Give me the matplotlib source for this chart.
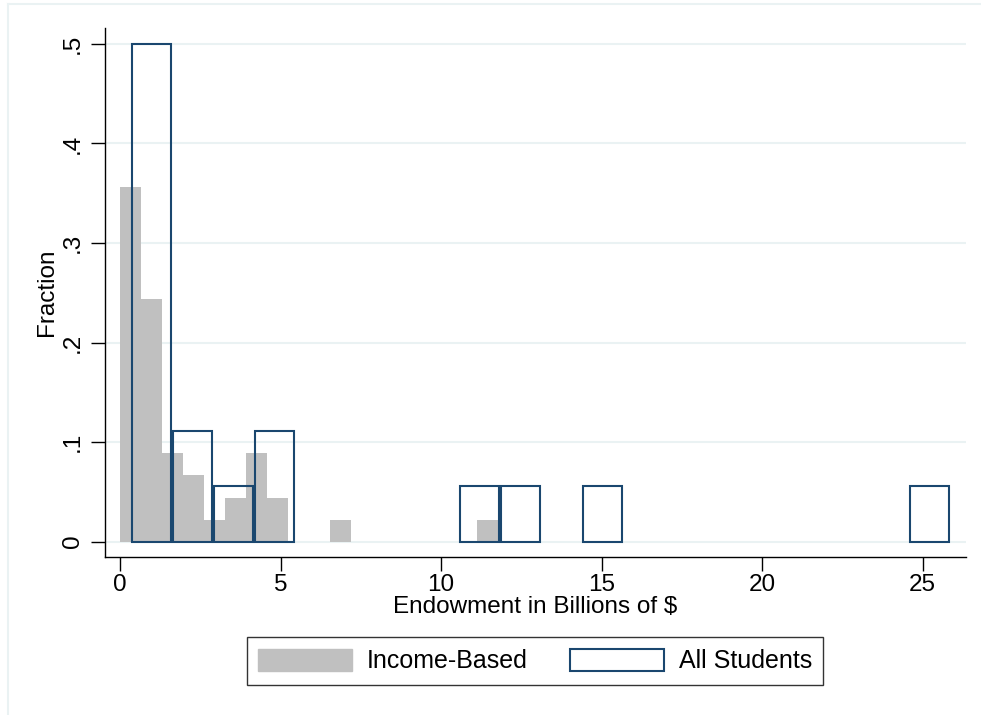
"""Endowment histogram: income-based vs all students (Stata-style look)."""

import numpy as np
import matplotlib

matplotlib.use("Agg")
import matplotlib.pyplot as plt
from matplotlib.patches import Patch

# histogram bins
income_start = 0.01
income_width = 0.6535
income_frac = [0.356, 0.244, 0.089, 0.067, 0.022, 0.044, 0.089, 0.044, 0.0,
               0.0, 0.022, 0.0, 0.0, 0.0, 0.0, 0.0, 0.0, 0.022]

all_start = 0.34
all_width = 1.276
all_frac = [0.5, 0.111, 0.0556, 0.111, 0.0, 0.0, 0.0, 0.0, 0.0556, 0.0556,
            0.0, 0.0556, 0.0, 0.0, 0.0, 0.0, 0.0, 0.0, 0.0, 0.0556]

x_ticks = [0, 5, 10, 15, 20, 25]
y_ticks = [0, 0.1, 0.2, 0.3, 0.4, 0.5]
y_tick_labels = ["0", ".1", ".2", ".3", ".4", ".5"]

GRAY = "#c0c0c0"
NAVY = "#1a476f"
GRID = "#eaf2f3"

plt.rcParams.update({"font.family": "Liberation Sans", "font.size": 17.5})

W, H = 981, 715
fig = plt.figure(figsize=(W / 100, H / 100), dpi=100)
ax = fig.add_axes([105 / W, 1 - 557 / H, (966 - 105) / W, (557 - 28) / H])

# light outer graph-region border (top + left)
fig.add_artist(plt.Line2D([8 / W, 1], [1 - 4 / H, 1 - 4 / H], color=GRID, lw=1.5))
fig.add_artist(plt.Line2D([8 / W, 8 / W], [0, 1 - 4 / H], color=GRID, lw=1.5))

inc_left = income_start + income_width * np.arange(len(income_frac))
all_left = all_start + all_width * np.arange(len(all_frac))

ax.bar(inc_left, income_frac, width=income_width, align="edge", color=GRAY,
       linewidth=0, zorder=2)
gap = 0.06
keep = [i for i, v in enumerate(all_frac) if v > 0]
ax.bar(all_left[keep] + gap / 2, [all_frac[i] for i in keep], width=all_width - gap,
       align="edge", facecolor="none", edgecolor=NAVY, linewidth=1.5, zorder=3)

ax.set_xlim(-0.467, 26.35)
ax.set_ylim(-0.0154, 0.516)
for y in y_ticks:
    ax.axhline(y, color=GRID, lw=1.5, zorder=1)

ax.set_xticks(x_ticks)
ax.set_yticks(y_ticks, y_tick_labels)
ax.tick_params(axis="y", length=10, width=1, pad=5, labelrotation=90)
ax.tick_params(axis="x", length=10, width=1, pad=2.5)
for lab in ax.get_yticklabels():
    lab.set_va("center")

ax.spines[["top", "right"]].set_visible(False)
ax.spines[["left", "bottom"]].set_linewidth(1)

ax.set_xlabel("Endowment in Billions of $", labelpad=0)
ax.set_ylabel("Fraction", labelpad=3)

handles = [Patch(facecolor=GRAY, edgecolor=GRAY, label="Income-Based"),
           Patch(facecolor="none", edgecolor=NAVY, linewidth=1.5, label="All Students")]
leg = fig.legend(handles=handles, ncol=2, loc="center", fontsize=18,
                 bbox_to_anchor=(535 / W, 1 - 661 / H), frameon=True, fancybox=False,
                 edgecolor="black", handlelength=3.75, handleheight=1.0,
                 handletextpad=0.6, columnspacing=1.7, borderpad=0.45, borderaxespad=0)
leg.get_frame().set_linewidth(1)

fig.savefig("out.png", dpi=100)
